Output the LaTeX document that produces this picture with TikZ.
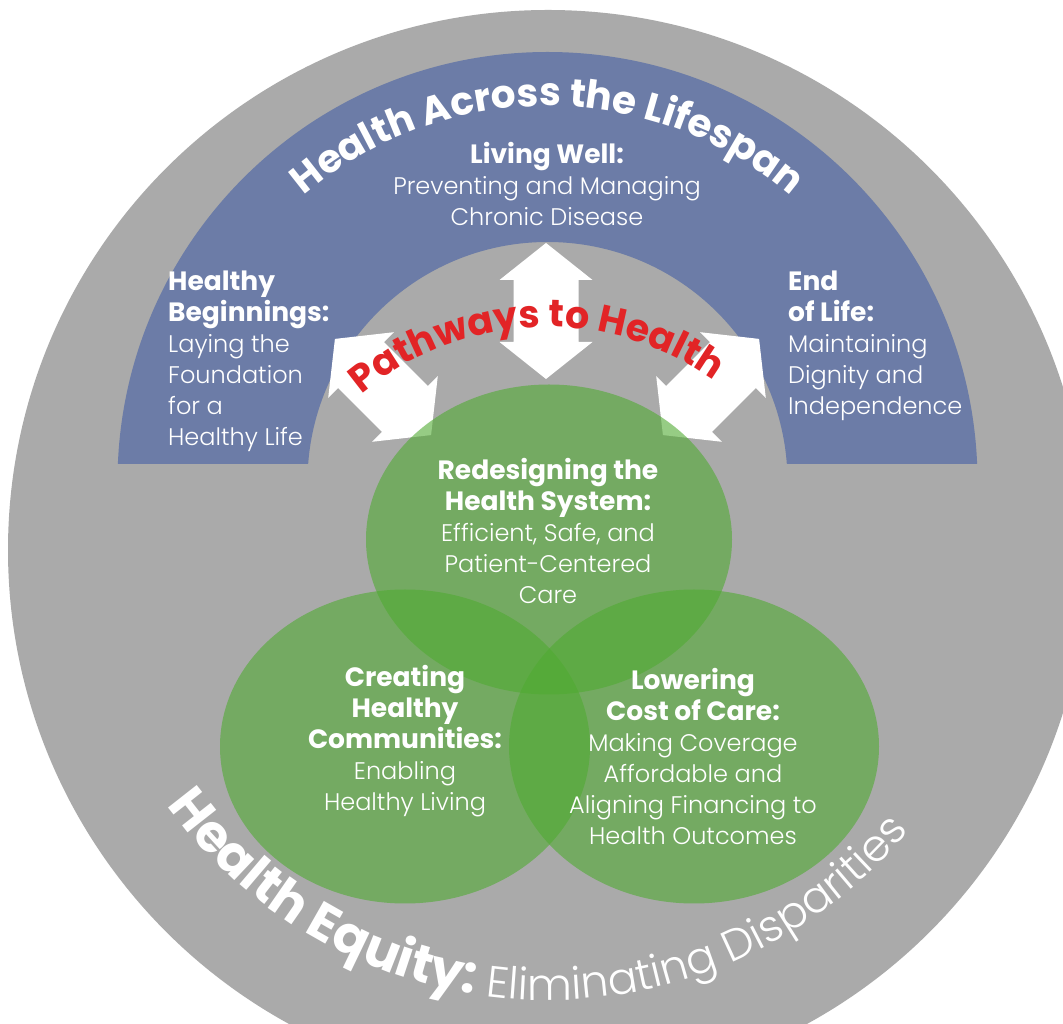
\documentclass[tikz,border=0pt]{standalone}
\usepackage{fontspec}
\setmainfont{Poppins}
\newfontfamily\lightfont{Poppins Light}
\usetikzlibrary{decorations.text}
\definecolor{ring}{RGB}{170,170,170}
\definecolor{span}{RGB}{108,124,167}
\definecolor{venn}{RGB}{80,170,50}
\definecolor{pathred}{RGB}{226,36,38}
\newcommand{\hd}[1]{{\normalfont\bfseries\fontsize{26.5}{31}\selectfont #1}}
\newcommand{\titlefont}{\bfseries\fontsize{39}{39}\selectfont}
\newcommand{\pathfont}{\bfseries\fontsize{38}{38}\selectfont}
\newcommand{\equityfont}{\bfseries\fontsize{52}{52}\selectfont}
\newcommand{\equitylight}{\lightfont\fontsize{44}{44}\selectfont}
\newcommand{\pathwayarrow}[3]{\fill[white, shift={(#1,#2)}, rotate=#3] (-68,0) -- (-31,46.5) -- (-31,32.5) -- (31,32.5) -- (31,46.5) -- (68,0) -- (31,-46.5) -- (31,-32.5) -- (-31,-32.5) -- (-31,-46.5) -- cycle;}

\begin{document}
\begin{tikzpicture}[x=1pt, y=1pt,
  bodytext/.style={text=white, font=\lightfont\fontsize{24}{31}\selectfont, align=center, inner sep=0pt},
  vennset/.style={fill=venn, fill opacity=0.6}]
\useasboundingbox (0,0) rectangle (1063,1023);
\fill[white] (0,0) rectangle (1063,1023);
\fill[ring] (548,473) circle (540);
% lifespan band
\begin{scope}
  \clip (0,559) rectangle (1063,1023);
  \fill[span, even odd rule] (547.5,541) circle (430) (547.5,541) circle (240);
\end{scope}
\path[decorate, decoration={text along path, text align=center, text color=white,
  text={|\titlefont|Health Across the Lifespan}}]
  ([shift={(139:376)}]547.5,541) arc[start angle=139, end angle=41, radius=376];
% pathways
\pathwayarrow{546}{712}{90}
\pathwayarrow{383}{636}{-45}
\pathwayarrow{711}{636}{45}
\path[decorate, decoration={text along path, text align=center, text color=pathred,
  text={|\pathfont|Pathways to Health}}]
  ([shift={(140:287)}]547,409) arc[start angle=140, end angle=44.5, radius=287];
% three sets
\fill[vennset] (549,483.5) ellipse [x radius=183, y radius=155];
\fill[vennset] (405,276.5) ellipse [x radius=185, y radius=157];
\fill[vennset] (694,276.5) ellipse [x radius=185, y radius=157];
\path[decorate, decoration={text along path, text align=center, text color=white,
  text={|\equityfont|Health Equity: |\equitylight|Eliminating Disparities}}]
  ([shift={(190:470)}]548,493) arc[start angle=190, end angle=346, radius=470];
\node[bodytext] (livingwell) at (547,839) {\hd{Living Well:}\\Preventing and Managing\\Chronic Disease};
\node[bodytext, align=left, anchor=west] (beginnings) at (168,661.5) {\hd{Healthy}\\\hd{Beginnings:}\\Laying the\\Foundation\\for a\\Healthy Life};
\node[bodytext, align=left, anchor=west] (endoflife) at (788,677.5) {\hd{End}\\\hd{of Life:}\\Maintaining\\Dignity and\\Independence};
\node[bodytext] (redesign) at (548,492) {\hd{Redesigning the}\\\hd{Health System:}\\Efficient, Safe, and\\Patient-Centered\\Care};
\node[bodytext] (communities) at (405,282) {\hd{Creating}\\\hd{Healthy}\\\hd{Communities:}\\Enabling\\Healthy Living};
\node[bodytext] (cost) at (693,266.5) {\hd{Lowering}\\\hd{Cost of Care:}\\Making Coverage\\Affordable and\\Aligning Financing to\\Health Outcomes};
\end{tikzpicture}
\end{document}
